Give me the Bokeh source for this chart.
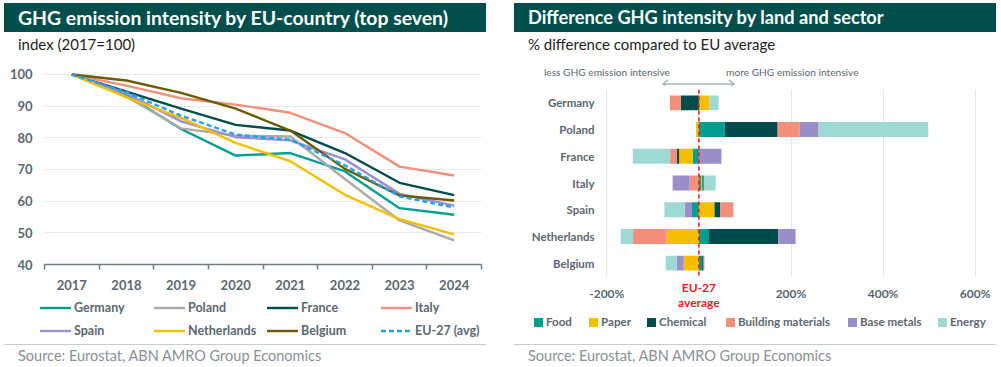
from bokeh.plotting import figure
from bokeh.models import (ColumnDataSource, FactorRange, Range1d, Span, Div, Spacer,
                          FixedTicker, LinearAxis)
from bokeh.layouts import row, column
from bokeh.embed import file_html
from bokeh.resources import INLINE

FONT = "Lato"
TICK_COLOR = "#5b6770"

# ---------------- data: left chart ----------------
years = [2017, 2018, 2019, 2020, 2021, 2022, 2023, 2024]
germany = [100, 93.5, 82.8, 74.4, 75.2, 69.4, 57.8, 55.7]
poland = [100, 93.0, 83.0, 80.7, 80.4, 67.0, 53.9, 47.6]
france = [100, 94.6, 89.2, 84.1, 82.3, 75.2, 65.8, 61.9]
italy = [100, 96.5, 92.5, 90.5, 87.9, 81.5, 70.9, 68.1]
spain = [100, 94.0, 85.2, 80.2, 79.2, 73.2, 62.3, 58.6]
netherlands = [100, 92.8, 86.3, 78.4, 72.6, 62.0, 54.3, 49.5]
belgium = [100, 98.1, 94.2, 89.2, 82.3, 70.2, 61.8, 60.2]
eu27 = [100, 94.4, 87.0, 81.0, 79.4, 71.3, 61.5, 58.0]
y_ticks = [40, 50, 60, 70, 80, 90, 100]

# ---------------- data: right chart ----------------
countries = ["Germany", "Poland", "France", "Italy", "Spain", "Netherlands", "Belgium"]
sectors = ["Food", "Paper", "Chemical", "Building materials", "Base metals", "Energy"]
food = [1, 56, -13, 5, -15, 22, 7]
paper = [22, -6, -30, 2.5, 34, -70, -33]
chemical = [-39, 115, -4.5, 3, 12, 150, 3]
building = [-24, 48, -15, -20, 29, -73, 2]
base_metals = [0, 41, 49, -37, -16, 38, -15]
energy = [20, 238, -81, 26, -44, -27, -24]
x_ticks = [-200, 0, 200, 400, 600]

PW = 482
SOURCE = "Source: Eurostat, ABN AMRO Group Economics"

# ---------------- helpers ----------------
def title_div(text, w, size):
    return Div(text=(f'<div style="width:{w}px;height:29px;background:#004f4c;color:#ffffff;'
                     f'font-family:{FONT};font-weight:bold;font-size:{size}px;line-height:29px;'
                     f'padding-left:14px;box-sizing:border-box;white-space:nowrap;">{text}</div>'),
               width=w, height=29, margin=0)

def sub_div(text, w, h=26, extra=""):
    return Div(text=(f'<div style="position:relative;width:{w}px;height:{h}px;">'
                     f'<div style="position:absolute;left:14px;top:0px;height:24px;line-height:24px;'
                     f'color:#1e1e1e;font-family:{FONT};font-size:15px;white-space:nowrap;">{text}</div>'
                     f'{extra}</div>'),
               width=w, height=h, margin=0)

def source_html(w, top):
    return (f'<div style="position:absolute;left:0px;top:{top}px;width:{w}px;height:1px;background:#c9cccf;"></div>'
            f'<div style="position:absolute;left:14px;top:{top + 1}px;height:22px;line-height:22px;'
            f'color:#8a9095;font-family:{FONT};font-size:14.5px;white-space:nowrap;">{SOURCE}</div>')

def style_axis(ax, size="13px", color=TICK_COLOR):
    ax.major_label_text_font = FONT
    ax.major_label_text_font_style = "bold"
    ax.major_label_text_font_size = size
    ax.major_label_text_color = color

# ---------------- left figure ----------------
pl = figure(width=PW, height=240, output_backend="svg", toolbar_location=None,
            x_range=Range1d(2016.5, 2024.5), y_range=Range1d(40, 101.26),
            min_border_left=40, min_border_right=5, min_border_top=12, min_border_bottom=34)
pl.outline_line_color = None
pl.xgrid.grid_line_color = None
pl.ygrid.grid_line_color = "#e6e9eb"
pl.yaxis.ticker = FixedTicker(ticks=y_ticks)
pl.yaxis.axis_line_color = None
pl.yaxis.major_tick_line_color = None
pl.yaxis.minor_tick_line_color = None
pl.yaxis.major_tick_out = 0
pl.yaxis.major_tick_in = 0
pl.yaxis.minor_tick_out = 0
pl.yaxis.major_label_standoff = 12
pl.xaxis.ticker = FixedTicker(ticks=years, minor_ticks=[y - 0.5 for y in years] + [years[-1] + 0.5])
pl.xaxis.axis_line_color = "#6f7c86"
pl.xaxis.axis_line_width = 1.5
pl.xaxis.major_tick_line_color = None
pl.xaxis.major_tick_out = 0
pl.xaxis.major_tick_in = 0
pl.xaxis.minor_tick_line_color = "#6f7c86"
pl.xaxis.minor_tick_line_width = 1.5
pl.xaxis.minor_tick_in = 0
pl.xaxis.minor_tick_out = 5
pl.xaxis.major_label_standoff = 10
for ax in pl.axis:
    style_axis(ax, "13px")

series = [
    ("Germany", germany, "#00a091", None),
    ("Poland", poland, "#aaaaaa", None),
    ("France", france, "#004c4c", None),
    ("Italy", italy, "#f4907a", None),
    ("Spain", spain, "#9d8fd0", None),
    ("Netherlands", netherlands, "#f5bf00", None),
    ("Belgium", belgium, "#6e5a00", None),
    ("EU-27 (avg)", eu27, "#1ea5ea", "5 3"),
]
for name, vals, col, dash in series:
    src = ColumnDataSource(dict(x=years, y=vals))
    kw = dict(line_color=col, line_width=2.4)
    if dash:
        kw["line_dash"] = dash
    pl.line("x", "y", source=src, **kw)

# ---------------- right figure ----------------
pr = figure(width=PW, height=227, output_backend="svg", toolbar_location=None,
            x_range=Range1d(-205, 605), y_range=FactorRange(factors=list(reversed(countries))),
            min_border_left=90, min_border_right=19, min_border_top=4, min_border_bottom=35)
pr.y_range.range_padding = 0
pr.outline_line_color = None
pr.ygrid.grid_line_color = None
pr.xgrid.grid_line_color = "#e4e6e8"
pr.xaxis.ticker = FixedTicker(ticks=x_ticks)
pr.xaxis.major_label_overrides = {-200: "-200%", 0: "", 200: "200%", 400: "400%", 600: "600%"}
pr.xaxis.axis_line_color = None
pr.xaxis.major_tick_line_color = None
pr.xaxis.minor_tick_line_color = None
pr.xaxis.major_tick_out = 0
pr.xaxis.major_label_standoff = 9
pr.yaxis.axis_line_color = None
pr.yaxis.major_tick_line_color = None
pr.yaxis.minor_tick_line_color = None
pr.yaxis.major_tick_out = 0
pr.yaxis.major_label_standoff = 10
style_axis(pr.xaxis[0], "12px")
style_axis(pr.yaxis[0], "11.5px")

# red "EU-27 average" label: a second axis that only ticks at 0
eu_axis = LinearAxis(ticker=FixedTicker(ticks=[0]), major_label_overrides={0: "EU-27\naverage"},
                     axis_line_color=None, major_tick_line_color=None, minor_tick_line_color=None,
                     major_tick_out=0, major_label_standoff=-24)
style_axis(eu_axis, "12px", "#e8202a")
eu_axis.major_label_text_line_height = 1.0
pr.add_layout(eu_axis, "below")

sector_vals = [food, paper, chemical, building, base_metals, energy]
sector_cols = ["#009e8f", "#f5bf00", "#004c4c", "#f3907b", "#9a8ecb", "#9ddad3"]
pos = [0.0] * len(countries)
neg = [0.0] * len(countries)
for name, vals, col in zip(sectors, sector_vals, sector_cols):
    lefts, rights = [], []
    for i, v in enumerate(vals):
        if v >= 0:
            lefts.append(pos[i]); rights.append(pos[i] + v); pos[i] += v
        else:
            lefts.append(neg[i] + v); rights.append(neg[i]); neg[i] += v
    src = ColumnDataSource(dict(y=countries, left=lefts, right=rights))
    pr.hbar(y="y", left="left", right="right", height=0.56, source=src,
            fill_color=col, line_color=None)

pr.add_layout(Span(location=0, dimension="height", line_color="#e8202a",
                   line_dash="4 3", line_width=1.6))

# direction annotation above the right chart (HTML)
arrow_html = (
    f'<div style="position:absolute;right:{PW - 156}px;top:33px;height:14px;line-height:14px;'
    f'font-family:{FONT};font-size:10.2px;color:{TICK_COLOR};white-space:nowrap;">less GHG emission intensive</div>'
    f'<div style="position:absolute;left:212px;top:33px;height:14px;line-height:14px;'
    f'font-family:{FONT};font-size:10.2px;color:{TICK_COLOR};white-space:nowrap;">more GHG emission intensive</div>'
    '<svg style="position:absolute;left:144px;top:46px;" width="82" height="12">'
    '<line x1="5" y1="6" x2="76" y2="6" stroke="#aab4ba" stroke-width="1.5"/>'
    '<polyline points="10,2 5,6 10,10" fill="none" stroke="#aab4ba" stroke-width="1.5"/>'
    '<polyline points="71,2 76,6 71,10" fill="none" stroke="#aab4ba" stroke-width="1.5"/>'
    '</svg>'
)

# legend of the right chart (HTML, from the sector names and colours)
r_leg_x = [20, 75, 133, 212, 334, 424]
r_leg = "".join(
    f'<div style="position:absolute;left:{x}px;top:6px;width:9px;height:9px;background:{c};"></div>'
    f'<div style="position:absolute;left:{x + 12}px;top:1px;height:18px;line-height:18px;'
    f'font-family:{FONT};font-weight:bold;font-size:11.6px;color:{TICK_COLOR};white-space:nowrap;">{s}</div>'
    for s, c, x in zip(sectors, sector_cols, r_leg_x))
right_bottom = Div(text=(f'<div style="position:relative;width:{PW}px;height:53px;">'
                         f'{r_leg}{source_html(PW, 32)}</div>'),
                   width=PW, height=53, margin=0)

# legend of the left chart (HTML, from the series names and colours)
l_cols = [36, 150, 263, 377]
l_rows = [0, 23]
l_leg = ""
for k, (name, vals, col, dash) in enumerate(series):
    x = l_cols[k % 4]
    y = l_rows[k // 4]
    da = f' stroke-dasharray="5 3"' if dash else ""
    l_leg += (f'<svg style="position:absolute;left:{x}px;top:{y + 8}px;" width="31" height="4">'
              f'<line x1="0" y1="2" x2="31" y2="2" stroke="{col}" stroke-width="2.4"{da}/></svg>'
              f'<div style="position:absolute;left:{x + 34}px;top:{y}px;height:20px;line-height:20px;'
              f'font-family:{FONT};font-weight:bold;font-size:12.5px;color:{TICK_COLOR};'
              f'white-space:nowrap;">{name}</div>')
left_bottom = Div(text=(f'<div style="position:relative;width:{PW}px;height:67px;">'
                        f'{l_leg}{source_html(PW, 46)}</div>'),
                  width=PW, height=67, margin=0)

left_panel = column(title_div("GHG emission intensity by EU-country (top seven)", PW, 19.4),
                    sub_div("index (2017=100)", PW), pl, left_bottom, spacing=0, margin=0)
right_panel = column(title_div("Difference GHG intensity by land and sector", PW, 18.2),
                     sub_div("% difference compared to EU average", PW, 53, arrow_html), pr,
                     right_bottom, spacing=0, margin=0)
page = row(left_panel, Spacer(width=28, height=10, margin=0), right_panel, spacing=0,
           margin=(3, 0, 0, 4))

open("out.html", "w").write(file_html(page, INLINE))
